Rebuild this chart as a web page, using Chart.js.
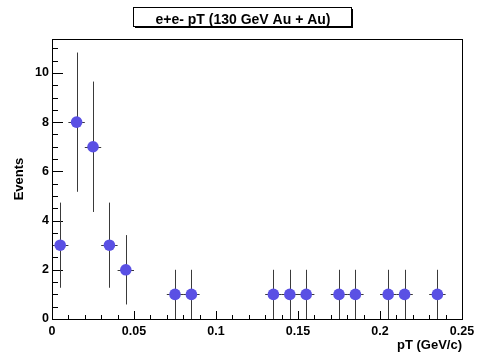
<!DOCTYPE html>
<html>
<head>
<meta charset="utf-8">
<script src="https://cdn.jsdelivr.net/npm/chart.js@4"></script>
<style>
  html, body { margin: 0; padding: 0; background: #fff; }
  #wrap { width: 485px; height: 353px; position: relative; }
</style>
</head>
<body>
<div id="wrap"><canvas id="chart" width="485" height="353"></canvas></div>
<script>
// e+e- pair pT histogram, 10 MeV bins (only filled bins listed)
const binCenters = [0.005, 0.015, 0.025, 0.035, 0.045, 0.075, 0.085, 0.135, 0.145, 0.155, 0.175, 0.185, 0.205, 0.215, 0.235];
const events = [3, 8, 7, 3, 2, 1, 1, 1, 1, 1, 1, 1, 1, 1, 1];
const eventErrors = [1.73, 2.83, 2.65, 1.73, 1.41, 1, 1, 1, 1, 1, 1, 1, 1, 1, 1];
const binHalfWidth = 0.005;

const titleText = 'e+e- pT (130 GeV Au + Au)';
const xTitle = 'pT (GeV/c)';
const yTitle = 'Events';
const xRange = [0, 0.25];
const yRange = [0, 11.38];

const FONT = '"Liberation Sans", Arial, Helvetica, sans-serif';
const MARKER = 'rgb(90, 80, 228)';

// crisp 1px line helper
function px(v) { return Math.round(v) + 0.5; }

const frameAndTicks = {
    id: 'frameAndTicks',
    beforeDatasetsDraw(chart) {
        const { ctx, chartArea: a, scales: { x, y } } = chart;
        ctx.save();
        ctx.strokeStyle = '#000';
        ctx.lineWidth = 1;
        ctx.beginPath();
        // x ticks every 0.01, major every 0.05
        for (let i = 0; i <= 25; i++) {
            const xp = px(x.getPixelForValue(i / 100));
            const len = i % 5 === 0 ? 8 : 4;
            ctx.moveTo(xp, a.bottom);
            ctx.lineTo(xp, a.bottom - len);
        }
        // y ticks every 0.5, major every 2
        for (let i = 0; i <= 22; i++) {
            const yp = px(y.getPixelForValue(i / 2));
            const len = i % 4 === 0 ? 11 : 6;
            ctx.moveTo(a.left, yp);
            ctx.lineTo(a.left + len, yp);
        }
        ctx.stroke();

        // error bars
        ctx.strokeStyle = '#3a3a3a';
        ctx.beginPath();
        binCenters.forEach((c, i) => {
            const xp = px(x.getPixelForValue(c));
            const yp = px(y.getPixelForValue(events[i]));
            ctx.moveTo(xp, y.getPixelForValue(events[i] + eventErrors[i]));
            ctx.lineTo(xp, y.getPixelForValue(Math.max(0, events[i] - eventErrors[i])));
            ctx.moveTo(x.getPixelForValue(c - binHalfWidth), yp);
            ctx.lineTo(x.getPixelForValue(c + binHalfWidth), yp);
        });
        ctx.stroke();
        ctx.restore();
    },
    afterDraw(chart) {
        const { ctx, chartArea: a } = chart;
        ctx.save();
        // plot frame
        ctx.strokeStyle = '#000';
        ctx.lineWidth = 1;
        ctx.strokeRect(px(a.left), px(a.top), Math.round(a.right - a.left), Math.round(a.bottom - a.top));

        // title box with ROOT-style shadow
        const bx = 133, by = 7, bw = 218, bh = 19;
        ctx.fillStyle = '#000';
        ctx.fillRect(bx + 2, by + 2, bw, bh);
        ctx.fillStyle = '#fff';
        ctx.fillRect(bx, by, bw, bh);
        ctx.strokeRect(bx + 0.5, by + 0.5, bw, bh);
        ctx.fillStyle = '#000';
        ctx.font = 'bold 14px ' + FONT;
        ctx.textAlign = 'center';
        ctx.textBaseline = 'alphabetic';
        ctx.fillText(titleText, bx + bw / 2 + 1, 24);
        ctx.restore();
    }
};

const ctx = document.getElementById('chart').getContext('2d');
new Chart(ctx, {
    type: 'scatter',
    data: {
        datasets: [{
            data: binCenters.map((c, i) => ({ x: c, y: events[i] })),
            pointRadius: 5.8,
            pointHoverRadius: 5.8,
            pointBackgroundColor: MARKER,
            pointBorderWidth: 0,
            showLine: false
        }]
    },
    options: {
        responsive: false,
        animation: false,
        devicePixelRatio: 1,
        layout: { padding: { left: 0, top: 39, right: 23, bottom: 0 } },
        plugins: {
            legend: { display: false },
            tooltip: { enabled: false }
        },
        scales: {
            x: {
                type: 'linear',
                min: xRange[0],
                max: xRange[1],
                afterFit(scale) { scale.height = 34; },
                grid: { display: false, drawTicks: false },
                border: { display: false },
                ticks: {
                    stepSize: 0.05,
                    includeBounds: false,
                    padding: 5,
                    color: '#000',
                    maxRotation: 0,
                    font: { family: FONT, size: 12.5, weight: 'bold' },
                    callback: v => String(Number(v.toFixed(2)))
                },
                title: {
                    display: true,
                    text: xTitle,
                    align: 'end',
                    color: '#000',
                    padding: { top: 0, bottom: 0 },
                    font: { family: FONT, size: 13, weight: 'bold' }
                }
            },
            y: {
                type: 'linear',
                min: yRange[0],
                max: yRange[1],
                afterFit(scale) { scale.width = 52; },
                grid: { display: false, drawTicks: false },
                border: { display: false },
                ticks: {
                    stepSize: 2,
                    includeBounds: false,
                    padding: 3,
                    color: '#000',
                    font: { family: FONT, size: 12.5, weight: 'bold' },
                    callback: v => (v % 2 === 0 ? String(v) : '')
                },
                title: {
                    display: true,
                    text: yTitle,
                    align: 'center',
                    color: '#000',
                    padding: { top: 12, bottom: 0 },
                    font: { family: FONT, size: 13, weight: 'bold' }
                }
            }
        }
    },
    plugins: [frameAndTicks]
});
</script>
</body>
</html>
